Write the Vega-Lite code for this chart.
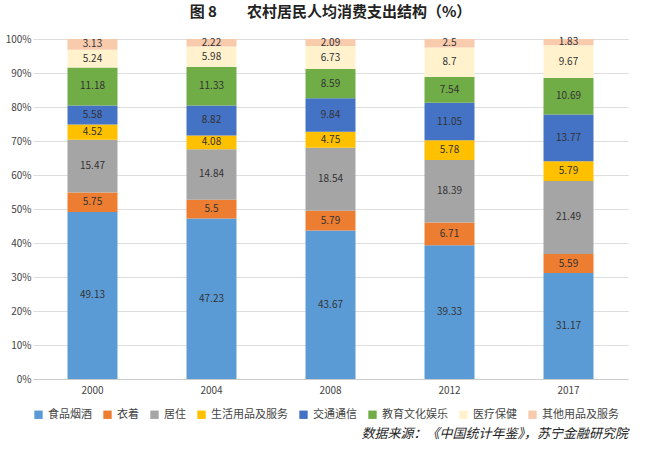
{
"$schema":"https://vega.github.io/schema/vega-lite/v6.json",
"background":"white",
"padding":{"left":5,"right":10,"top":5,"bottom":5},
"config":{"font":"Noto Sans CJK SC","view":{"stroke":null}},
"title":{"text":"数据来源：《中国统计年鉴》，苏宁金融研究院","orient":"bottom","anchor":"end","fontSize":13,"fontStyle":"italic","fontWeight":"normal","color":"#222","offset":8},
"vconcat":[{
"width":595,"height":340,
"title":{"text":"图 8　　农村居民人均消费支出结构（%）","anchor":"middle","fontSize":15,"fontWeight":"bold","color":"#222","offset":14},
"data":{"values":[
{"y":"2000","c":"食品烟酒","o":1,"v":49.13},{"y":"2000","c":"衣着","o":2,"v":5.75},{"y":"2000","c":"居住","o":3,"v":15.47},{"y":"2000","c":"生活用品及服务","o":4,"v":4.52},{"y":"2000","c":"交通通信","o":5,"v":5.58},{"y":"2000","c":"教育文化娱乐","o":6,"v":11.18},{"y":"2000","c":"医疗保健","o":7,"v":5.24},{"y":"2000","c":"其他用品及服务","o":8,"v":3.13},
{"y":"2004","c":"食品烟酒","o":1,"v":47.23},{"y":"2004","c":"衣着","o":2,"v":5.5},{"y":"2004","c":"居住","o":3,"v":14.84},{"y":"2004","c":"生活用品及服务","o":4,"v":4.08},{"y":"2004","c":"交通通信","o":5,"v":8.82},{"y":"2004","c":"教育文化娱乐","o":6,"v":11.33},{"y":"2004","c":"医疗保健","o":7,"v":5.98},{"y":"2004","c":"其他用品及服务","o":8,"v":2.22},
{"y":"2008","c":"食品烟酒","o":1,"v":43.67},{"y":"2008","c":"衣着","o":2,"v":5.79},{"y":"2008","c":"居住","o":3,"v":18.54},{"y":"2008","c":"生活用品及服务","o":4,"v":4.75},{"y":"2008","c":"交通通信","o":5,"v":9.84},{"y":"2008","c":"教育文化娱乐","o":6,"v":8.59},{"y":"2008","c":"医疗保健","o":7,"v":6.73},{"y":"2008","c":"其他用品及服务","o":8,"v":2.09},
{"y":"2012","c":"食品烟酒","o":1,"v":39.33},{"y":"2012","c":"衣着","o":2,"v":6.71},{"y":"2012","c":"居住","o":3,"v":18.39},{"y":"2012","c":"生活用品及服务","o":4,"v":5.78},{"y":"2012","c":"交通通信","o":5,"v":11.05},{"y":"2012","c":"教育文化娱乐","o":6,"v":7.54},{"y":"2012","c":"医疗保健","o":7,"v":8.7},{"y":"2012","c":"其他用品及服务","o":8,"v":2.5},
{"y":"2017","c":"食品烟酒","o":1,"v":31.17},{"y":"2017","c":"衣着","o":2,"v":5.59},{"y":"2017","c":"居住","o":3,"v":21.49},{"y":"2017","c":"生活用品及服务","o":4,"v":5.79},{"y":"2017","c":"交通通信","o":5,"v":13.77},{"y":"2017","c":"教育文化娱乐","o":6,"v":10.69},{"y":"2017","c":"医疗保健","o":7,"v":9.67},{"y":"2017","c":"其他用品及服务","o":8,"v":1.83}
]},
"encoding":{
"x":{"field":"y","type":"nominal","title":null,"axis":{"labelAngle":0,"labelFontSize":10,"labelColor":"#444","domainColor":"#ccc","ticks":false,"labelPadding":6},"scale":{"paddingInner":0.58,"paddingOuter":0.29}},
"y":{"field":"v","type":"quantitative","stack":"normalize","title":null,"axis":{"format":".0%","values":[0,0.1,0.2,0.3,0.4,0.5,0.6,0.7,0.8,0.9,1],"labelOverlap":false,"labelFontSize":10,"labelColor":"#444","domain":false,"ticks":false,"gridColor":"#ddd"}},
"order":{"field":"o","type":"quantitative"}
},
"layer":[
{"mark":{"type":"bar"},"encoding":{"color":{"field":"c","type":"nominal","sort":["食品烟酒","衣着","居住","生活用品及服务","交通通信","教育文化娱乐","医疗保健","其他用品及服务"],"scale":{"domain":["食品烟酒","衣着","居住","生活用品及服务","交通通信","教育文化娱乐","医疗保健","其他用品及服务"],"range":["#5B9BD5","#ED7D31","#A5A5A5","#FFC000","#4472C4","#70AD47","#FFF2CC","#F8CBAD"]},"legend":{"orient":"bottom","title":null,"direction":"horizontal","columns":8,"symbolType":"square","symbolSize":70,"labelFontSize":11,"labelColor":"#444","columnPadding":10,"offset":14}}}},
{"mark":{"type":"text","fontSize":10,"color":"#333"},"encoding":{"y":{"field":"v","type":"quantitative","stack":"normalize","bandPosition":0.5},"text":{"field":"v","type":"quantitative"}}}
]
}]
}
